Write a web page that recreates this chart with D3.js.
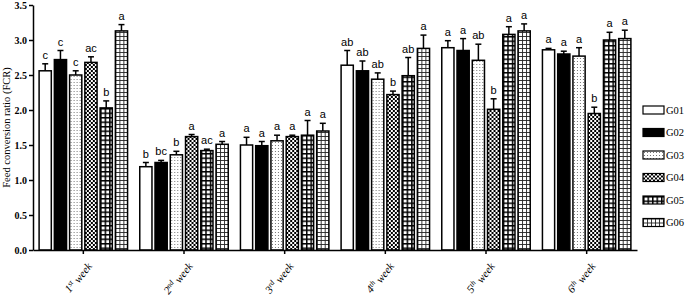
<!DOCTYPE html>
<html>
<head>
<meta charset="utf-8">
<script src="https://cdn.jsdelivr.net/npm/d3@7"></script>
<style>
  body { margin: 0; background: #fff; }
  svg { display: block; }
</style>
</head>
<body>
<svg id="chart" width="685" height="299"></svg>
<script>
const weeks = ["1", "2", "3", "4", "5", "6"];
const weekSup = ["st", "nd", "rd", "th", "th", "th"];
const groups = ["G01", "G02", "G03", "G04", "G05", "G06"];
const yTicks = [0, 0.5, 1.0, 1.5, 2.0, 2.5, 3.0, 3.5];

// mean FCR per week (rows) and group (columns)
const means = [
  [2.56, 2.72, 2.50, 2.68, 2.03, 3.13],
  [1.19, 1.25, 1.36, 1.62, 1.42, 1.51],
  [1.50, 1.49, 1.56, 1.62, 1.64, 1.70],
  [2.64, 2.56, 2.44, 2.22, 2.49, 2.88],
  [2.89, 2.85, 2.71, 2.01, 3.08, 3.13],
  [2.86, 2.80, 2.77, 1.95, 3.00, 3.02]
];
const errors = [
  [0.10, 0.13, 0.06, 0.08, 0.10, 0.09],
  [0.06, 0.03, 0.05, 0.03, 0.02, 0.04],
  [0.11, 0.06, 0.08, 0.02, 0.21, 0.11],
  [0.21, 0.14, 0.09, 0.05, 0.26, 0.19],
  [0.10, 0.17, 0.23, 0.15, 0.11, 0.10],
  [0.02, 0.04, 0.12, 0.09, 0.11, 0.12]
];
const letters = [
  ["c", "c", "c", "ac", "b", "a"],
  ["b", "bc", "b", "a", "ac", "a"],
  ["a", "a", "a", "a", "a", "a"],
  ["ab", "ab", "ab", "b", "ab", "a"],
  ["a", "a", "ab", "b", "a", "a"],
  ["a", "a", "a", "b", "a", "a"]
];

const svg = d3.select("#chart");
const defs = svg.append("defs");

// fill patterns for each group
function makePattern(id, size, draw) {
  const p = defs.append("pattern")
    .attr("id", id)
    .attr("patternUnits", "userSpaceOnUse")
    .attr("width", size)
    .attr("height", size);
  p.append("rect").attr("width", size).attr("height", size).attr("fill", "#fff");
  draw(p);
}
makePattern("pG03", 3, p => {
  p.append("rect").attr("x", 1).attr("y", 1).attr("width", 1).attr("height", 1).attr("fill", "#777");
});
makePattern("pG04", 4, p => {
  p.append("rect").attr("x", 0).attr("y", 0).attr("width", 2).attr("height", 2).attr("fill", "#000");
  p.append("rect").attr("x", 2).attr("y", 2).attr("width", 2).attr("height", 2).attr("fill", "#000");
});
makePattern("pG05", 4.5, p => {
  p.append("rect").attr("x", 0).attr("y", 0).attr("width", 1.5).attr("height", 4.5).attr("fill", "#000");
  p.append("rect").attr("x", 0).attr("y", 0).attr("width", 4.5).attr("height", 1.5).attr("fill", "#000");
});
makePattern("pG06", 4, p => {
  p.append("rect").attr("x", 0).attr("y", 0).attr("width", 0.9).attr("height", 4).attr("fill", "#222");
  p.append("rect").attr("x", 0).attr("y", 0).attr("width", 4).attr("height", 0.9).attr("fill", "#222");
});

const fills = {
  G01: "#fff",
  G02: "#000",
  G03: "url(#pG03)",
  G04: "url(#pG04)",
  G05: "url(#pG05)",
  G06: "url(#pG06)"
};

const y = d3.scaleLinear().domain([0, 3.5]).range([250, 5]);
const x0 = d3.scaleBand().domain(weeks).range([33, 637]);
const x1 = d3.scaleBand().domain(groups).range([0, x0.bandwidth()])
  .paddingInner(0.2).paddingOuter(0.4);

const data = weeks.flatMap((w, i) => groups.map((g, j) => ({
  week: w, group: g, value: means[i][j], err: errors[i][j], letter: letters[i][j]
})));

// bars
const bar = svg.append("g").selectAll("g")
  .data(data)
  .join("g")
  .attr("transform", d => `translate(${x0(d.week) + x1(d.group)},0)`);

bar.append("rect")
  .attr("x", 0)
  .attr("y", d => y(d.value))
  .attr("width", x1.bandwidth())
  .attr("height", d => y(0) - y(d.value))
  .attr("fill", d => fills[d.group])
  .attr("stroke", "#000")
  .attr("stroke-width", 1.5);

// error bars (upper only)
const bw = x1.bandwidth();
bar.append("line")
  .attr("x1", bw / 2).attr("x2", bw / 2)
  .attr("y1", d => y(d.value))
  .attr("y2", d => y(d.value + d.err))
  .attr("stroke", "#000")
  .attr("stroke-width", 1.5);
bar.append("line")
  .attr("x1", bw / 2 - 3).attr("x2", bw / 2 + 3)
  .attr("y1", d => y(d.value + d.err))
  .attr("y2", d => y(d.value + d.err))
  .attr("stroke", "#000")
  .attr("stroke-width", 1.5);

bar.append("text")
  .attr("x", bw / 2)
  .attr("y", d => y(d.value + d.err) - 5)
  .attr("text-anchor", "middle")
  .style("font-family", "Liberation Sans, Arial, sans-serif")
  .style("font-size", "11px")
  .text(d => d.letter);

// y axis
const yAxis = svg.append("g")
  .attr("transform", "translate(33,0)")
  .call(d3.axisLeft(y).tickValues(yTicks).tickFormat(d3.format(".1f")).tickSize(4).tickSizeOuter(0));
yAxis.select(".domain").attr("stroke-width", 1.5);
yAxis.selectAll(".tick line").attr("stroke-width", 1.5);
yAxis.selectAll("text")
  .attr("x", -6)
  .style("font-family", "Liberation Serif, Times New Roman, serif")
  .style("font-weight", "bold")
  .style("font-size", "10px");

svg.append("text")
  .attr("transform", `translate(10,${y(1.75)}) rotate(-90)`)
  .attr("text-anchor", "middle")
  .style("font-family", "Liberation Serif, Times New Roman, serif")
  .style("font-size", "10.5px")
  .text("Feed conversion ratio (FCR)");

// x axis
const xAxis = svg.append("g")
  .attr("transform", "translate(0,250)")
  .call(d3.axisBottom(x0).tickSize(4).tickSizeOuter(0).tickFormat(""));
xAxis.select(".domain").attr("stroke-width", 1.5);
xAxis.selectAll(".tick line").attr("stroke-width", 1.5);

const xl = svg.append("g").selectAll("text")
  .data(weeks)
  .join("text")
  .attr("transform", d => `translate(${x0(d) + x0.bandwidth() / 2 + 5},263) rotate(-52)`)
  .attr("text-anchor", "end")
  .attr("dy", "0.35em")
  .style("font-family", "Liberation Serif, Times New Roman, serif")
  .style("font-style", "italic")
  .style("font-size", "11px");
xl.append("tspan").text(d => d);
xl.append("tspan")
  .attr("dy", "-0.45em")
  .style("font-size", "7.5px")
  .text((d, i) => weekSup[i]);
xl.append("tspan")
  .attr("dy", "0.45em")
  .text(" week");

// legend
const legend = svg.append("g").selectAll("g")
  .data(groups)
  .join("g")
  .attr("transform", (d, i) => `translate(643,${106 + i * 22.5})`);
legend.append("rect")
  .attr("width", 21)
  .attr("height", 8)
  .attr("fill", d => fills[d])
  .attr("stroke", "#000")
  .attr("stroke-width", 1.2);
legend.append("text")
  .attr("x", 23)
  .attr("y", 4)
  .attr("dy", "0.35em")
  .style("font-family", "Liberation Serif, Times New Roman, serif")
  .style("font-size", "10.5px")
  .text(d => d);
</script>
</body>
</html>
